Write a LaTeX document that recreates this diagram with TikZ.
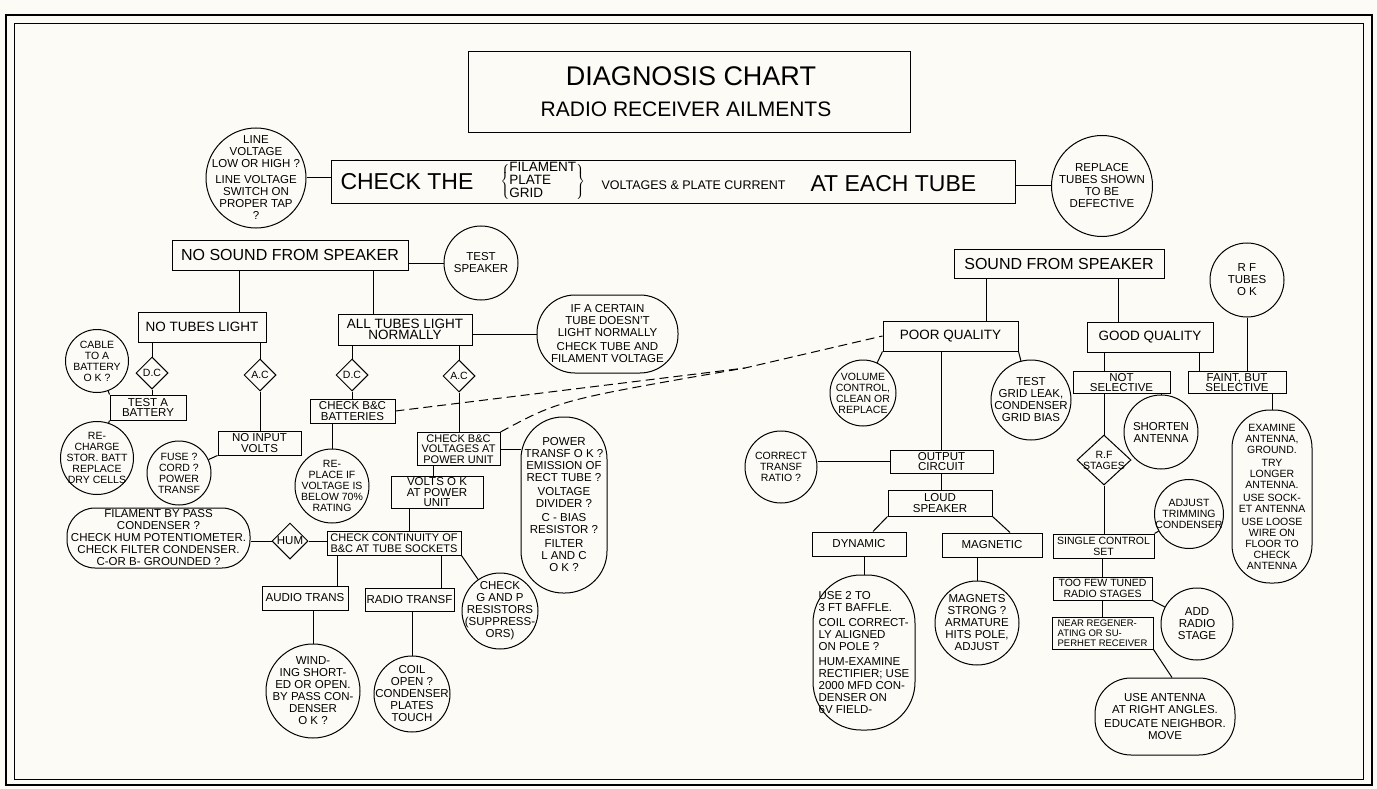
\documentclass[tikz,border=0pt]{standalone}
\usepackage{fontspec}
\setmainfont{Liberation Sans}
\usepackage{tikz}
\usetikzlibrary{shapes.geometric}

\definecolor{paper}{RGB}{252,251,246}
\newcommand\ftitle{\fontsize{27}{30}\selectfont}
\newcommand\fsub{\fontsize{21}{24}\selectfont}
\newcommand\fhuge{\fontsize{23}{26}\selectfont}
\newcommand\fbig{\fontsize{16}{18}\selectfont}
\newcommand\fmid{\fontsize{13.5}{11.5}\selectfont}
\newcommand\fbx{\fontsize{11.5}{10.5}\selectfont}
\newcommand\fbrace{\fontsize{13.5}{13}\selectfont}
\newcommand\fcirc{\fontsize{11.5}{12}\selectfont}
\newcommand\fsm{\fontsize{10.5}{11}\selectfont}

\begin{document}
\begin{tikzpicture}[
    x=1pt, y=-1pt, line width=1pt,
    box/.style={rectangle, draw, align=center, inner sep=1pt, font=\fbx},
    bigbox/.style={box, font=\fbig},
    blob/.style={rectangle, draw, align=center, inner sep=0pt, font=\fcirc},
    ring/.style={circle, draw, inner sep=0pt, minimum size=#1},
    dia/.style={diamond, draw, inner sep=0pt, minimum width=#1, minimum height=#1, font=\fsm},
    ctxt/.style={align=center, inner sep=0pt, font=\fcirc},
    stxt/.style={ctxt, font=\fsm},
    tx/.style={inner sep=0pt, anchor=west},
    wire/.style={line width=1pt},
    dlink/.style={wire, dash pattern=on 9pt off 5pt}
]
\useasboundingbox (0,0) rectangle (1377,789);
\fill[paper] (0,0) rectangle (1377,789);

% Double frame round the chart
\draw[line width=2.5pt] (6,15) rectangle (1372,785);
\draw[line width=0.8pt] (14,23) rectangle (1363,779);

% Title
\node[draw, minimum width=442, minimum height=81] (titlebox) at (689,92.5) {};
\node[font=\ftitle] (titleA) at (691,76) {DIAGNOSIS CHART};
\node[font=\fsub] (titleB) at (686,109) {RADIO RECEIVER AILMENTS};

% Main check line
\node[draw, minimum width=684, minimum height=43] (checkbox) at (673,182.5) {};
\node[tx, font=\fhuge] (chkA) at (340,182) {CHECK THE};
\node[tx, font=\fbrace] (chkB) at (500,182)
    {$\left\{\mbox{\begin{tabular}{@{}l@{}}FILAMENT\\PLATE\\GRID\end{tabular}}\right\}$};
\node[tx, font=\fontsize{12.5}{13}\selectfont] (chkC) at (601,185) {VOLTAGES \& PLATE CURRENT};
\node[tx, font=\fhuge] (chkD) at (810,184) {AT EACH TUBE};

\node[ring=100, label={[ctxt]center:LINE\\VOLTAGE\\LOW OR HIGH ?\\[4pt]LINE VOLTAGE\\SWITCH ON\\PROPER TAP\\?}] (linev) at (256,178) {};
\node[ring=101, label={[ctxt]center:REPLACE\\TUBES SHOWN\\TO BE\\DEFECTIVE}] (replace) at (1102,186) {};

% Left half: no sound
\node[bigbox, minimum width=236, minimum height=30] (nosound) at (290,255) {NO SOUND FROM SPEAKER};
\node[ring=74, label={[ctxt]center:TEST\\SPEAKER}] (testspk) at (481,263) {};
\node[box, font=\fmid, minimum width=128, minimum height=30] (notubes) at (202,327) {NO TUBES LIGHT};
\node[box, font=\fmid, minimum width=134, minimum height=31] (alltubes) at (405,329.5) {ALL TUBES LIGHT\\NORMALLY};
\node[blob, minimum width=141, minimum height=78, rounded corners=38] (certain) at (607.5,334)
    {IF A CERTAIN\\TUBE DOESN'T\\LIGHT NORMALLY\\[2pt]CHECK TUBE AND\\FILAMENT VOLTAGE};

\node[dia=32] (dcA) at (152,373) {D.C};
\node[dia=32] (acA) at (260,375) {A.C};
\node[dia=32] (dcB) at (352,375) {D.C};
\node[dia=32] (acB) at (459,376) {A.C};

\node[ring=63, label={[stxt]center:CABLE\\TO A\\BATTERY\\O K ?}] (cable) at (97,361) {};
\node[box, minimum width=76, minimum height=25] (testbat) at (148,407.5) {TEST A\\BATTERY};
\node[ring=73, label={[stxt]center:RE-\\CHARGE\\STOR. BATT\\REPLACE\\DRY CELLS}] (recharge) at (97,458) {};
\node[box, minimum width=83, minimum height=24] (noinput) at (259.5,443) {NO INPUT\\VOLTS};
\node[ring=64, label={[stxt]center:FUSE ?\\CORD ?\\POWER\\TRANSF}] (fuse) at (179,473) {};

\node[box, minimum width=85, minimum height=24] (chkbat) at (352.5,411) {CHECK B\&C\\BATTERIES};
\node[ring=74, label={[stxt]center:RE-\\PLACE IF\\VOLTAGE IS\\BELOW 70\%\\RATING}] (rep70) at (332,486) {};
\node[box, font=\fontsize{11}{10.5}\selectfont, minimum width=83, minimum height=33] (chkvolt) at (458.5,449)
    {CHECK B\&C\\VOLTAGES AT\\POWER UNIT};
\node[blob, minimum width=86, minimum height=176, rounded corners=42] (power) at (564,505)
    {POWER\\TRANSF O K ?\\EMISSION OF\\RECT TUBE ?\\[2pt]VOLTAGE\\DIVIDER ?\\[2pt]C - BIAS\\RESISTOR ?\\[2pt]FILTER\\L AND C\\O K ?};
\node[box, minimum width=92, minimum height=31] (voltsok) at (437,492.5) {VOLTS O K\\AT POWER\\UNIT};
\node[box, font=\fontsize{11}{10.5}\selectfont, minimum width=134, minimum height=24] (contin) at (394,543)
    {CHECK CONTINUITY OF\\B\&C AT TUBE SOCKETS};
\node[dia=36, font=\fbx] (hum) at (290,541) {HUM};
\node[blob, minimum width=183, minimum height=60, rounded corners=28] (filam) at (158.5,538)
    {FILAMENT BY PASS\\CONDENSER ?\\CHECK HUM POTENTIOMETER.\\CHECK FILTER CONDENSER.\\C-OR B- GROUNDED ?};
\node[box, minimum width=86, minimum height=24] (audio) at (305,598) {AUDIO TRANS};
\node[box, minimum width=89, minimum height=23] (radio) at (409.5,599.5) {RADIO TRANSF};
\node[ring=94, label={[ctxt]center:WIND-\\ING SHORT-\\ED OR OPEN.\\BY PASS CON-\\DENSER\\O K ?}] (winding) at (313,691) {};
\node[ring=76, label={[ctxt]center:COIL\\OPEN ?\\CONDENSER\\PLATES\\TOUCH}] (coil) at (412,694) {};
\node[ring=76, label={[ctxt]center:CHECK\\G AND P\\RESISTORS\\(SUPPRESS-\\ORS)}] (gp) at (500,611) {};

% Right half: sound from speaker
\node[bigbox, minimum width=210, minimum height=29] (sound) at (1059,263.5) {SOUND FROM SPEAKER};
\node[box, font=\fmid, minimum width=135, minimum height=30] (poor) at (950.5,336) {POOR QUALITY};
\node[ring=66, label={[stxt]center:VOLUME\\CONTROL,\\CLEAN OR\\REPLACE}] (volume) at (863,393) {};
\node[ring=80, label={[ctxt]center:TEST\\GRID LEAK,\\CONDENSER\\GRID BIAS}] (testgrid) at (1031,400) {};
\node[ring=72, label={[stxt]center:CORRECT\\TRANSF\\RATIO ?}] (correct) at (781,467) {};
\node[box, minimum width=103, minimum height=23] (output) at (941.5,461.5) {OUTPUT\\CIRCUIT};
\node[box, minimum width=104, minimum height=26] (loud) at (940,503) {LOUD\\SPEAKER};
\node[box, minimum width=94, minimum height=24] (dynamic) at (859,544) {DYNAMIC};
\node[box, minimum width=100, minimum height=24] (magnetic) at (992,545) {MAGNETIC};
\node[blob, align=left, minimum width=102, minimum height=155, rounded corners=48] (use2) at (864,652.5)
    {USE 2 TO\\3 FT BAFFLE.\\[3pt]COIL CORRECT-\\LY ALIGNED\\ON POLE ?\\[3pt]HUM-EXAMINE\\RECTIFIER; USE\\2000 MFD CON-\\DENSER ON\\6V FIELD-};
\node[ring=84, label={[ctxt]center:MAGNETS\\STRONG ?\\ARMATURE\\HITS POLE,\\ADJUST}] (magnets) at (977,623) {};

\node[box, font=\fmid, minimum width=126, minimum height=30] (good) at (1150,337) {GOOD QUALITY};
\node[box, minimum width=97, minimum height=22] (notsel) at (1121.5,382.5) {NOT\\SELECTIVE};
\node[box, minimum width=98, minimum height=22] (faint) at (1237,382.5) {FAINT, BUT\\SELECTIVE};
\node[ring=74, label={[ctxt]center:R F\\TUBES\\O K}] (rftubes) at (1247,280) {};
\node[ring=74, label={[ctxt]center:SHORTEN\\ANTENNA}] (shorten) at (1161,432) {};
\node[diamond, draw, inner sep=0pt, minimum width=54, minimum height=50,
      label={[stxt]center:R.F\\STAGES}] (rfst) at (1104,460) {};
\node[ring=69, label={[stxt]center:ADJUST\\TRIMMING\\CONDENSER}] (adjust) at (1189,514) {};
\node[box, font=\fsm, minimum width=101, minimum height=24] (single) at (1103.5,546) {SINGLE CONTROL\\SET};
\node[box, font=\fsm, minimum width=99, minimum height=23] (toofew) at (1102.5,588.5) {TOO FEW TUNED\\RADIO STAGES};
\node[ring=72, label={[ctxt]center:ADD\\RADIO\\STAGE}] (addradio) at (1197,624) {};
\node[box, font=\fontsize{9.5}{10}\selectfont, align=left, minimum width=101, minimum height=32] (near) at (1102.5,633)
    {NEAR REGENER-\\ATING OR SU-\\PERHET RECEIVER};
\node[blob, minimum width=140, minimum height=77, rounded corners=36] (useant) at (1165,716.5)
    {USE ANTENNA\\AT RIGHT ANGLES.\\[2pt]EDUCATE NEIGHBOR.\\MOVE};
\node[blob, font=\fontsize{10.5}{11}\selectfont, minimum width=80, minimum height=173, rounded corners=38] (examine) at (1272,496.5)
    {EXAMINE\\ANTENNA,\\GROUND.\\[2pt]TRY\\LONGER\\ANTENNA.\\[2pt]USE SOCK-\\ET ANTENNA\\[2pt]USE LOOSE\\WIRE ON\\FLOOR TO\\CHECK\\ANTENNA};

% Connectors, top line
\draw[wire] (linev.east) -- (linev.east -| checkbox.west);
\draw[wire] (replace.west) -- (replace.west -| checkbox.east);

% Connectors, left half
\draw[wire] (testspk.west) -- (testspk.west -| nosound.east);
\draw[wire] ([xshift=37pt]notubes.north) coordinate (k1) -- (k1 |- nosound.south);
\draw[wire] ([xshift=-32pt]alltubes.north) coordinate (k2) -- (k2 |- nosound.south);
\draw[wire] (certain.west) -- (certain.west -| alltubes.east);
\draw[wire] (dcA.north) -- (dcA.north |- notubes.south);
\draw[wire] (acA.north) -- (acA.north |- notubes.south);
\draw[wire] (dcA.south) -- (dcA.south |- testbat.north);
\draw[wire] (acA.south) -- (acA.south |- noinput.north);
\draw[wire] (cable) -- (testbat.north west);
\draw[wire] (testbat.south west) -- (recharge);
\draw[wire] (noinput.south west) -- (fuse);
\draw[wire] (dcB.north) -- (dcB.north |- alltubes.south);
\draw[wire] (acB.north) -- (acB.north |- alltubes.south);
\draw[wire] (dcB.south) -- (dcB.south |- chkbat.north);
\draw[wire] (acB.south) -- (acB.south |- chkvolt.north);
\draw[wire] (rep70.north) -- (rep70.north |- chkbat.south);
\draw[wire] (chkvolt.east) -- (chkvolt.east -| power.west);
\draw[wire] ([xshift=-4pt]voltsok.north) coordinate (k3) -- (k3 |- chkvolt.south);
\draw[wire] ([xshift=15pt]contin.north) coordinate (k4) -- (k4 |- voltsok.south);
\draw[wire] (hum.east) -- (hum.east -| contin.west);
\draw[wire] (hum.west) -- (hum.west -| filam.east);
\draw[wire] ([xshift=32pt]audio.north) coordinate (k5) -- (k5 |- contin.south);
\draw[wire] ([xshift=31.5pt]radio.north) coordinate (k6) -- (k6 |- contin.south);
\draw[wire] (winding.north) -- (winding.north |- audio.south);
\draw[wire] (coil.north) -- (coil.north |- radio.south);
\draw[wire] (contin.south east) -- (gp);

% Dashed cross links to poor quality
\coordinate (dmerge) at (745,368);
\draw[dlink] (chkbat.east) -- (dmerge) -- (poor.west);
\draw[dlink] (chkvolt.north east) .. controls (560,400) .. (dmerge);

% Connectors, right half
\draw[wire] ([xshift=35.5pt]poor.north) coordinate (k7) -- (k7 |- sound.south);
\draw[wire] ([xshift=-32pt]good.north) coordinate (k8) -- (k8 |- sound.south);
\draw[wire] (poor.south west) -- (volume);
\draw[wire] (poor.south east) -- (testgrid);
\draw[wire] (output.north) -- (output.north |- poor.south);
\draw[wire] (output.west) -- (output.west -| correct.east);
\draw[wire] (output.south) -- (output.south |- loud.north);
\draw[wire] (loud.south west) -- ([xshift=14pt]dynamic.north);
\draw[wire] (loud.south east) -- ([xshift=18pt]magnetic.north);
\draw[wire] (use2.north) -- (use2.north |- dynamic.south);
\draw[wire] (magnets.north) -- (magnets.north |- magnetic.south);
\draw[wire] (rfst.north |- good.south) -- (rfst.north |- notsel.north);
\draw[wire] (rfst.north) -- (rfst.north |- notsel.south);
\draw[wire] ([xshift=-38pt]faint.north) coordinate (k9) -- (k9 |- good.south);
\draw[wire] (rftubes.south) -- (rftubes.south |- faint.north);
\draw[wire] (shorten.north) -- (shorten.north |- notsel.south);
\draw[wire] (examine.north) -- (examine.north |- faint.south);
\draw[wire] (rfst.south) -- (rfst.south |- single.north);
\draw[wire] (single.north east) -- (adjust);
\draw[wire] (toofew.north) -- (toofew.north |- single.south);
\draw[wire] (near.north) -- (near.north |- toofew.south);
\draw[wire] (toofew.south east) -- (addradio);
\draw[wire] (near.south east) -- ([xshift=7pt]useant.north);
\end{tikzpicture}
\end{document}
